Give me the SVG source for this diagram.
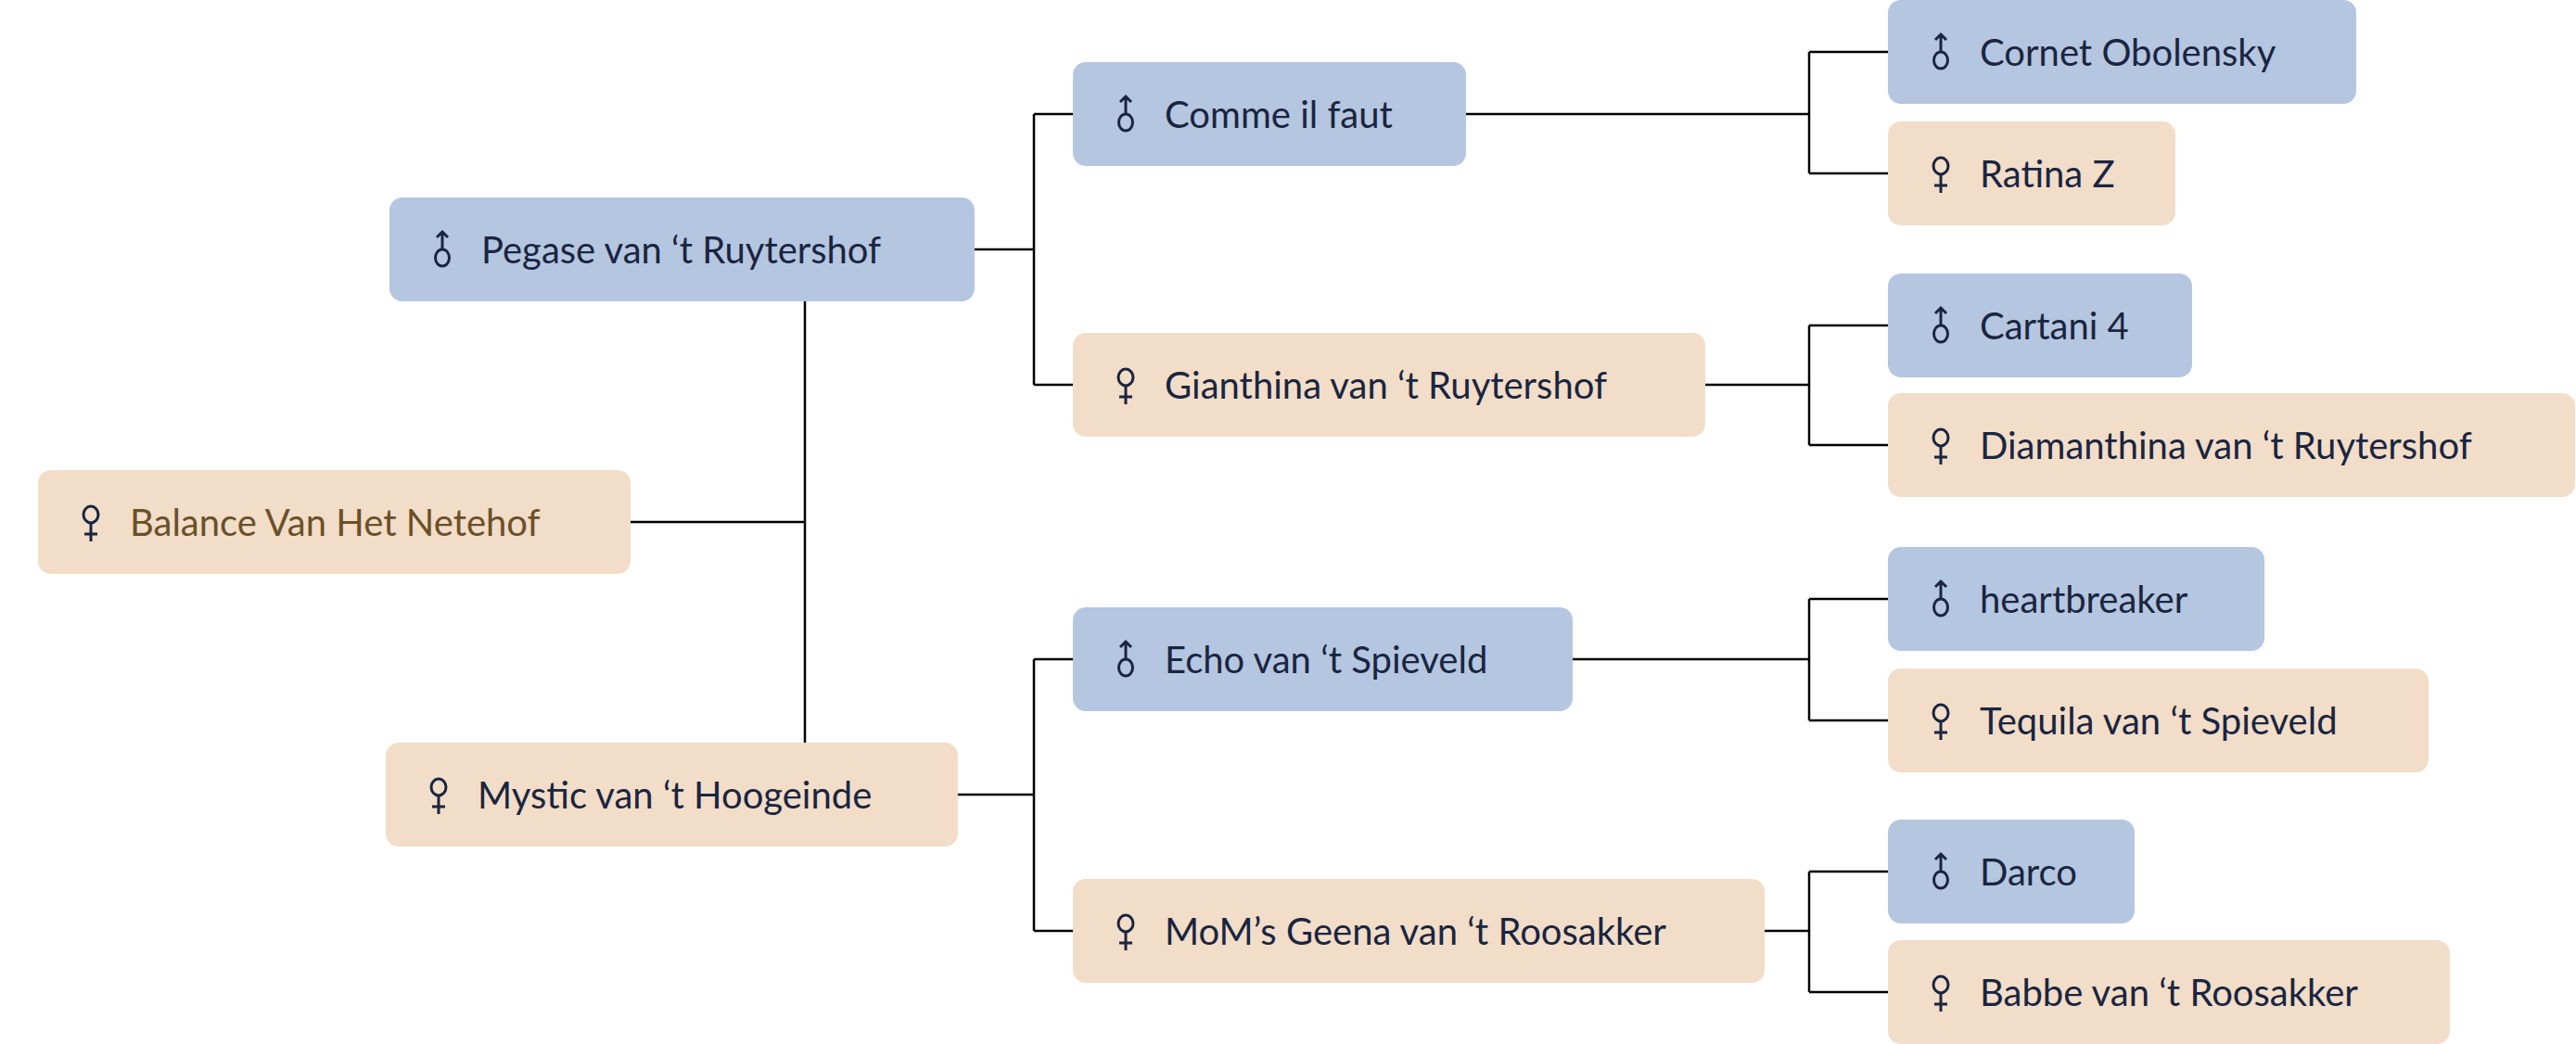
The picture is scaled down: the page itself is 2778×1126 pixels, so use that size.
<svg xmlns="http://www.w3.org/2000/svg" width="2778" height="1126" viewBox="0 0 2778 1126">
<style>
.m{fill:#b5c6e0}.f{fill:#f2ddc8}
text{font-family:Lato,"Liberation Sans",sans-serif;font-size:40px;fill:#1a2540;dominant-baseline:central}
.br{fill:#6b5028}
.ic{fill:none;stroke:#1a2540;stroke-width:3}
#conn path{fill:none;stroke:#000;stroke-width:2.5}
</style>
<defs>
<g id="male" class="ic"><ellipse cx="0" cy="9" rx="7.5" ry="9"/><path d="M0 0V-19M-6 -13L0 -19L6 -13"/></g>
<g id="female" class="ic"><ellipse cx="0" cy="-8" rx="8" ry="9"/><path d="M0 1V21M-7 13H7"/></g>
</defs>
<g id="conn">
<path d="M868 324V801M680 563H868"/>
<path d="M1051 269H1115M1115 123V415M1115 123H1157M1115 415H1157"/>
<path d="M1033 857H1115M1115 711V1004M1115 711H1157M1115 1004H1157"/>
<path d="M1581 123H1951M1951 56V187M1951 56H2036M1951 187H2036"/>
<path d="M1839 415H1951M1951 351V480M1951 351H2036M1951 480H2036"/>
<path d="M1696 711H1951M1951 646V777M1951 646H2036M1951 777H2036"/>
<path d="M1903 1004H1951M1951 940V1070M1951 940H2036M1951 1070H2036"/>
</g>
<g id="pegase"><rect class="m" x="420" y="213" width="631" height="112" rx="14"/><use href="#male" x="477" y="269"/><text x="519" y="269">Pegase van ‘t Ruytershof</text></g>
<g id="balance"><rect class="f" x="41" y="507" width="639" height="112" rx="14"/><use href="#female" x="98" y="563"/><text class="br" x="140" y="563">Balance Van Het Netehof</text></g>
<g id="mystic"><rect class="f" x="416" y="801" width="617" height="112" rx="14"/><use href="#female" x="473" y="857"/><text x="515" y="857">Mystic van ‘t Hoogeinde</text></g>
<g id="comme"><rect class="m" x="1157" y="67" width="424" height="112" rx="14"/><use href="#male" x="1214" y="123"/><text x="1256" y="123">Comme il faut</text></g>
<g id="gianthina"><rect class="f" x="1157" y="359" width="682" height="112" rx="14"/><use href="#female" x="1214" y="415"/><text x="1256" y="415">Gianthina van ‘t Ruytershof</text></g>
<g id="echo"><rect class="m" x="1157" y="655" width="539" height="112" rx="14"/><use href="#male" x="1214" y="711"/><text x="1256" y="711">Echo van ‘t Spieveld</text></g>
<g id="mom"><rect class="f" x="1157" y="948" width="746" height="112" rx="14"/><use href="#female" x="1214" y="1004"/><text x="1256" y="1004">MoM’s Geena van ‘t Roosakker</text></g>
<g id="cornet"><rect class="m" x="2036" y="0" width="505" height="112" rx="14"/><use href="#male" x="2093" y="56"/><text x="2135" y="56">Cornet Obolensky</text></g>
<g id="ratina"><rect class="f" x="2036" y="131" width="310" height="112" rx="14"/><use href="#female" x="2093" y="187"/><text x="2135" y="187">Ratina Z</text></g>
<g id="cartani"><rect class="m" x="2036" y="295" width="328" height="112" rx="14"/><use href="#male" x="2093" y="351"/><text x="2135" y="351">Cartani 4</text></g>
<g id="diamanthina"><rect class="f" x="2036" y="424" width="741" height="112" rx="14"/><use href="#female" x="2093" y="480"/><text x="2135" y="480">Diamanthina van ‘t Ruytershof</text></g>
<g id="heartbreaker"><rect class="m" x="2036" y="590" width="406" height="112" rx="14"/><use href="#male" x="2093" y="646"/><text x="2135" y="646">heartbreaker</text></g>
<g id="tequila"><rect class="f" x="2036" y="721" width="583" height="112" rx="14"/><use href="#female" x="2093" y="777"/><text x="2135" y="777">Tequila van ‘t Spieveld</text></g>
<g id="darco"><rect class="m" x="2036" y="884" width="266" height="112" rx="14"/><use href="#male" x="2093" y="940"/><text x="2135" y="940">Darco</text></g>
<g id="babbe"><rect class="f" x="2036" y="1014" width="606" height="112" rx="14"/><use href="#female" x="2093" y="1070"/><text x="2135" y="1070">Babbe van ‘t Roosakker</text></g>
</svg>
